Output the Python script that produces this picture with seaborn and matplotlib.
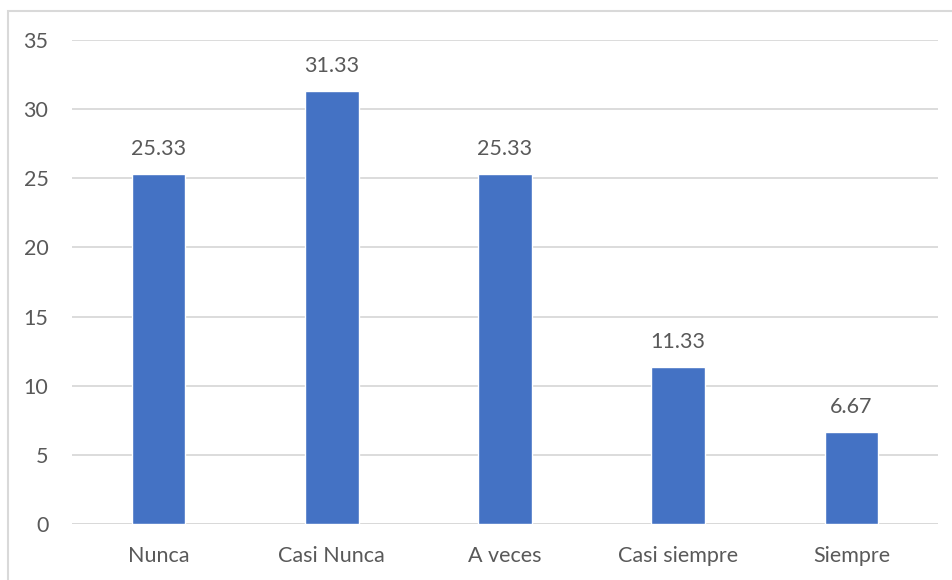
import matplotlib
matplotlib.use("Agg")
import matplotlib.pyplot as plt
import seaborn as sns
import pandas as pd
from matplotlib.patches import Rectangle

categories = ["Nunca", "Casi Nunca", "A veces", "Casi siempre", "Siempre"]
values = [25.33, 31.33, 25.33, 11.33, 6.67]
yticks = [0, 5, 10, 15, 20, 25, 30, 35]

df = pd.DataFrame({"categoria": categories, "porcentaje": values})

sns.set_theme(style="white")
plt.rcParams["font.family"] = ["Lato", "DejaVu Sans"]

text_color = "#595959"
grid_color = "#D9D9D9"
bar_color = "#4472C4"
font_size = 15.5

fig = plt.figure(figsize=(9.53, 5.80), dpi=100)
ax = fig.add_axes([72 / 953, 1 - 524 / 580, 866 / 953, 484 / 580])

sns.barplot(data=df, x="categoria", y="porcentaje", color=bar_color,
            saturation=1, width=0.31, ax=ax, zorder=3)

ax.set_xlim(-0.5, len(categories) - 0.5)
ax.set_ylim(0, 35)
ax.set_yticks(yticks)
ax.set_yticklabels([str(t) for t in yticks])
ax.yaxis.grid(True, color=grid_color, linewidth=1.3, zorder=0)
ax.set_axisbelow(True)
for s in ax.spines.values():
    s.set_visible(False)
ax.axhline(0, color=grid_color, linewidth=1.3, zorder=2)

ax.set_xlabel("")
ax.set_ylabel("")
ax.tick_params(axis="both", length=0, labelsize=font_size, colors=text_color)
ax.tick_params(axis="y", pad=17)
ax.tick_params(axis="x", pad=16)

for i, v in enumerate(values):
    ax.text(i, v + 1.1, f"{v:.2f}", ha="center", va="bottom",
            fontsize=font_size, color=text_color)

# chart frame (open on the right and bottom edges)
fig.patches.append(Rectangle((8 / 953, -0.1), 1.2, 1 - 11 / 580 + 0.1,
                             transform=fig.transFigure, fill=False,
                             edgecolor=grid_color, linewidth=1.5))

fig.savefig("out.png", dpi=100)
